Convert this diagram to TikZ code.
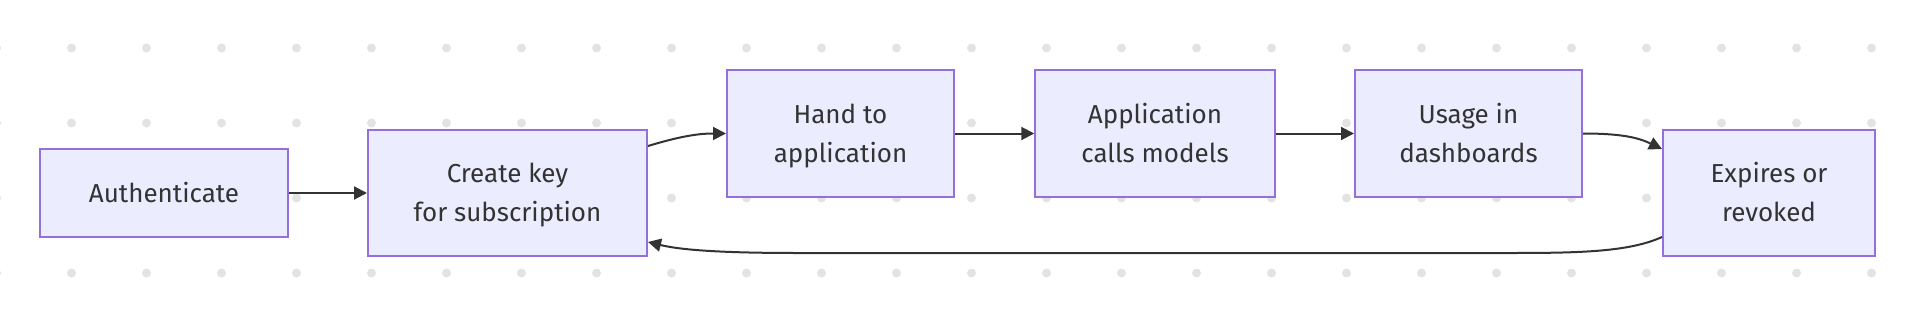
\documentclass[tikz,border=0pt]{standalone}
\usepackage{fontspec}
\setmainfont{Fira Sans}
\usetikzlibrary{arrows.meta,calc}
\definecolor{nodefill}{HTML}{ECECFF}
\definecolor{nodeline}{HTML}{9370DB}
\definecolor{edgecol}{HTML}{333333}
\definecolor{dotcol}{HTML}{E3E3E3}
\definecolor{txtcol}{HTML}{333333}
\newcommand\lstrut{\rule[-8pt]{0pt}{34pt}}
\tikzset{
  box/.style={draw=nodeline, fill=nodefill, line width=2pt, rectangle, align=center,
    text=txtcol, font=\fontsize{26}{39}\selectfont, inner sep=0pt},
  edge/.style={draw=edgecol, line width=2pt, -{Triangle[length=13pt,width=13pt]}},
  griddot/.style={fill=dotcol, draw=none}
}
\begin{document}
\begin{tikzpicture}[x=1pt,y=-1pt]
\useasboundingbox (0,0) rectangle (1924,308);
\foreach \i in {0,...,25} {
  \foreach \j in {0,...,3} {
    \fill[griddot] (-3.5+75*\i, 48+75*\j) circle (4.5pt);
  }
}
\node[box, minimum width=248pt, minimum height=88pt] (au) at (164,193) {\lstrut Authenticate};
\node[box, minimum width=279pt, minimum height=126pt] (cr) at (507.5,193) {\lstrut Create key\\\lstrut for subscription};
\node[box, minimum width=227pt, minimum height=127pt] (hd) at (840.5,133.5) {\lstrut Hand to\\\lstrut application};
\node[box, minimum width=239.5pt, minimum height=127pt] (ap) at (1155,133.5) {\lstrut Application\\\lstrut calls models};
\node[box, minimum width=227pt, minimum height=127pt] (us) at (1468.5,133.5) {\lstrut Usage in\\\lstrut dashboards};
\node[box, minimum width=212pt, minimum height=126pt] (ex) at (1769,193) {\lstrut Expires or\\\lstrut revoked};

\draw[edge] (au.east) -- (cr.west);
\draw[edge] ($(cr.east)+(0,-47)$) .. controls ($(cr.east)+(33,-57)$) and ($(hd.west)+(-27,0)$) .. (hd.west);
\draw[edge] (hd.east) -- (ap.west);
\draw[edge] (ap.east) -- (us.west);
\draw[edge] (us.east) .. controls ($(us.east)+(40,0)$) and ($(ex.west)+(-23,-55)$) .. ($(ex.west)+(0,-44)$);
\coordinate (b1) at ($(ex.west)+(-152,60)$);
\coordinate (b2) at ($(cr.east)+(150,60)$);
\draw[edge] ($(ex.west)+(0,44)$) .. controls ($(ex.west)+(-33,59)$) and ($(ex.west)+(-83,60)$) .. (b1) -- (b2)
  .. controls ($(cr.east)+(73,60)$) and ($(cr.east)+(33,57)$) .. ($(cr.east)+(0,49)$);
\end{tikzpicture}
\end{document}
